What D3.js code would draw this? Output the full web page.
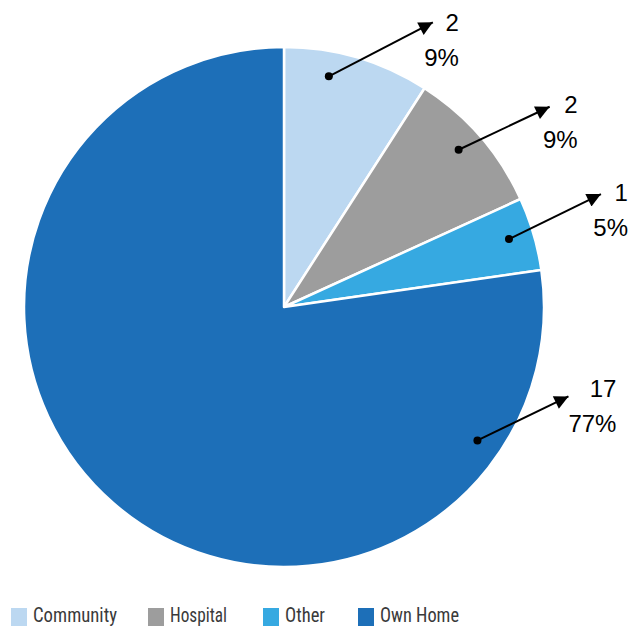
<!DOCTYPE html>
<html>
<head>
<meta charset="utf-8">
<script src="https://cdn.jsdelivr.net/npm/d3@7"></script>
<style>
  html, body { margin: 0; padding: 0; background: #fff; }
  svg { display: block; }
</style>
</head>
<body>
<svg id="chart" width="630" height="628"></svg>
<script>
// Place of death counts
const categories = ["Community", "Hospital", "Other", "Own Home"];
const counts = [2, 2, 1, 17];
const colours = ["#bcd8f1", "#9d9d9d", "#36a9e1", "#1d6fb8"];

// Callout layout per slice: angle of the dot (degrees clockwise from top),
// arrow vector, and offset of the right-aligned label from the arrow tip
const calloutAngle = [11, 48, 73.2, 124.6];
const arrowVec = [[104, -54], [91, -43], [92, -45], [91, -44]];
const labelOffset = [[26, 9], [28, 6], [27, 7], [48, 1]];

const svg = d3.select("#chart");
const cx = 284, cy = 307, r = 260;
const total = d3.sum(counts);

const data = categories.map((c, i) => ({ name: c, value: counts[i], i }));
const pie = d3.pie().value(d => d.value).sort(null).startAngle(0).endAngle(2 * Math.PI);
const arc = d3.arc().innerRadius(0).outerRadius(r);
const colour = d3.scaleOrdinal().domain(categories).range(colours);

const g = svg.append("g").attr("transform", `translate(${cx},${cy})`);
g.selectAll("path.slice")
  .data(pie(data))
  .join("path")
  .attr("class", "slice")
  .attr("d", arc)
  .attr("fill", d => colour(d.data.name))
  .attr("stroke", "#fff")
  .attr("stroke-width", 2.5)
  .attr("stroke-linejoin", "round");

// Arrowhead
svg.append("defs").append("marker")
  .attr("id", "head")
  .attr("viewBox", "0 0 10 10")
  .attr("refX", 10).attr("refY", 5)
  .attr("markerUnits", "userSpaceOnUse")
  .attr("markerWidth", 18).attr("markerHeight", 14)
  .attr("orient", "auto")
  .append("path")
  .attr("d", "M0,0 L10,5 L0,10 Z")
  .attr("fill", "#000");

const callouts = svg.append("g");
data.forEach((d, i) => {
  const a = calloutAngle[i] * Math.PI / 180;
  const rr = 235;
  const x0 = cx + rr * Math.sin(a), y0 = cy - rr * Math.cos(a);
  const x1 = x0 + arrowVec[i][0], y1 = y0 + arrowVec[i][1];
  callouts.append("line")
    .attr("x1", x0).attr("y1", y0).attr("x2", x1).attr("y2", y1)
    .attr("stroke", "#000").attr("stroke-width", 2)
    .attr("marker-end", "url(#head)");
  callouts.append("circle")
    .attr("cx", x0).attr("cy", y0).attr("r", 4).attr("fill", "#000");
  const lx = x1 + labelOffset[i][0], ly = y1 + labelOffset[i][1];
  const t = callouts.append("text")
    .attr("text-anchor", "end")
    .attr("font-family", "'Liberation Sans', Arial, sans-serif")
    .attr("font-size", 24)
    .attr("fill", "#000");
  t.append("tspan").attr("x", lx).attr("y", ly).text(d.value);
  t.append("tspan").attr("x", lx).attr("y", ly + 35)
    .text(Math.round(d.value / total * 100) + "%");
});

// Legend along the bottom edge
const legendX = [11, 148, 263, 358];
const legendTextW = [84, 57, 40, 79];
const legend = svg.append("g");
data.forEach((d, i) => {
  const lg = legend.append("g").attr("transform", `translate(${legendX[i]},608)`);
  lg.append("rect").attr("width", 16).attr("height", 18).attr("fill", colour(d.name));
  lg.append("text")
    .attr("x", 22).attr("y", 14)
    .attr("font-family", "'Roboto Condensed', 'Liberation Sans Narrow', 'Liberation Sans', sans-serif")
    .attr("font-size", 20)
    .attr("textLength", legendTextW[i])
    .attr("lengthAdjust", "spacingAndGlyphs")
    .attr("fill", "#3a3a3a")
    .text(d.name);
});
</script>
</body>
</html>
